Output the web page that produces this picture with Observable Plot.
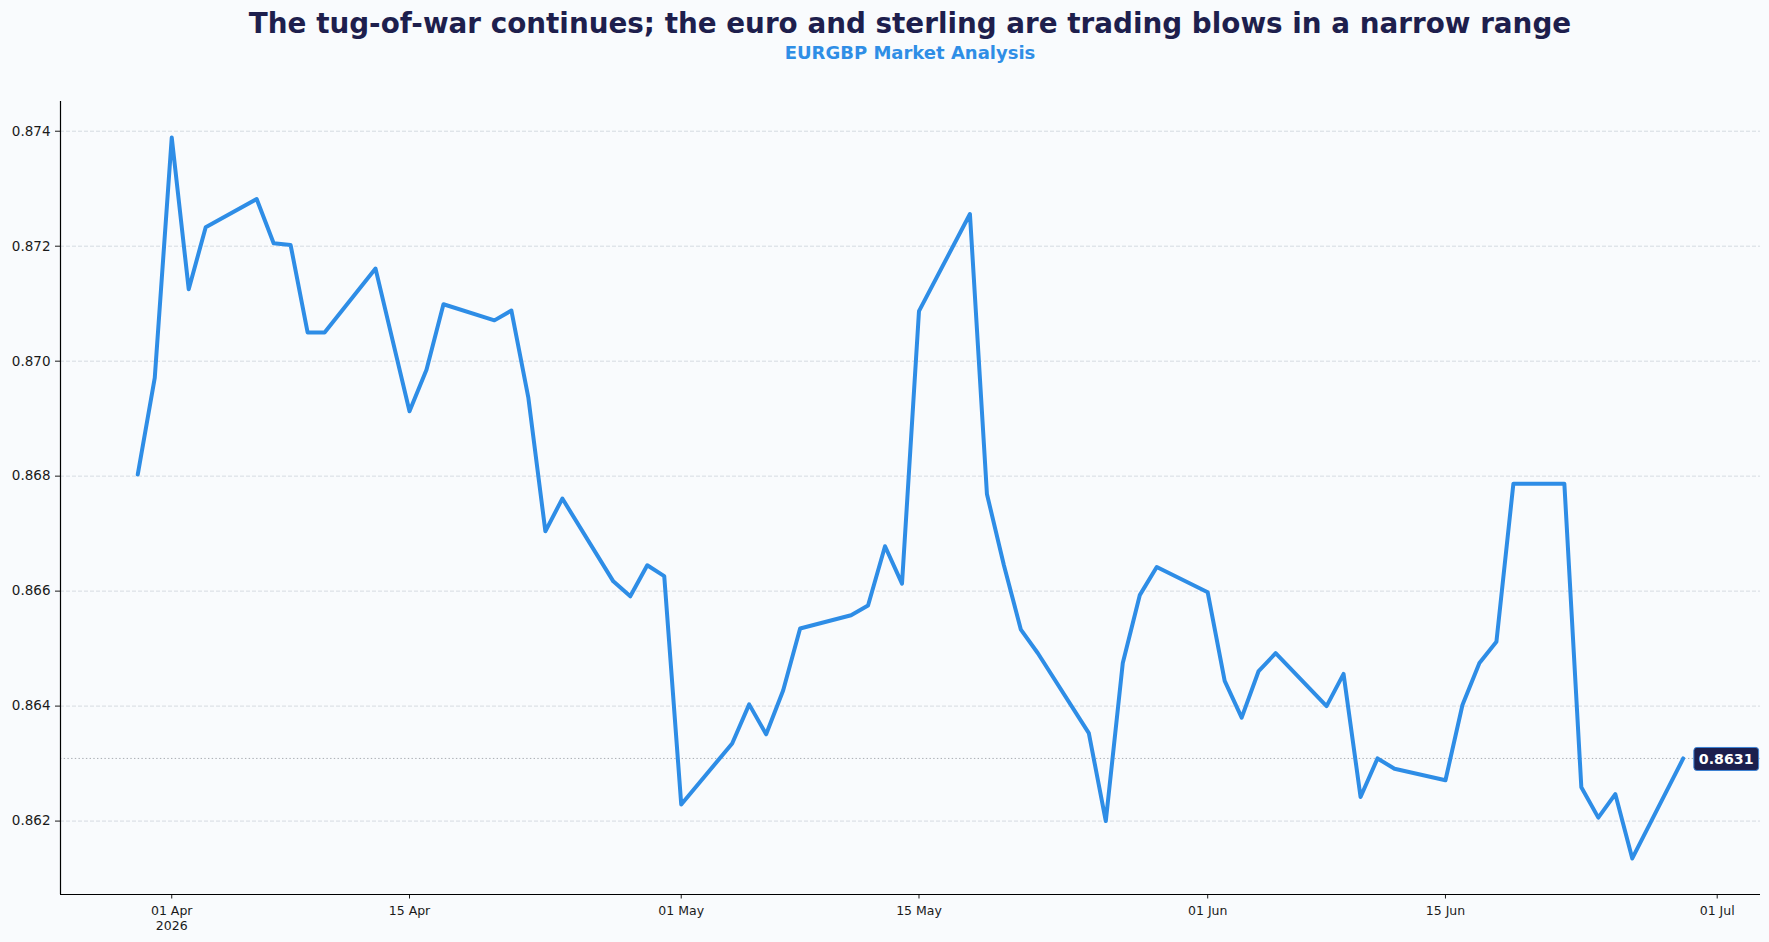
<!DOCTYPE html>
<html>
<head>
<meta charset="utf-8">
<script src="https://cdn.jsdelivr.net/npm/d3@7"></script>
<script src="https://cdn.jsdelivr.net/npm/@observablehq/plot@0.6"></script>
<style>
  html, body { margin: 0; padding: 0; background: #f9fbfd; }
  body { width: 1769px; height: 942px; overflow: hidden; font-family: "DejaVu Sans", sans-serif; }
  #header { position: relative; height: 70px; }
  #title { position: absolute; top: 7px; left: 60px; right: 9px; text-align: center;
           font-size: 27.8px; line-height: 34px; font-weight: bold; color: #1e1f4d; white-space: nowrap; }
  #subtitle { position: absolute; top: 41.5px; left: 60px; right: 9px; text-align: center;
              font-size: 18px; line-height: 22px; font-weight: bold; color: #2f8ee6; white-space: nowrap; }
  #chart svg { display: block; }
</style>
</head>
<body>
<div id="header"><div id="title"></div><div id="subtitle"></div></div>
<div id="chart"></div>
<script>
const titleText = "The tug-of-war continues; the euro and sterling are trading blows in a narrow range";
const subtitleText = "EURGBP Market Analysis";

const dates = [
  "2026-03-30","2026-03-31","2026-04-01","2026-04-02","2026-04-03",
  "2026-04-06","2026-04-07","2026-04-08","2026-04-09","2026-04-10",
  "2026-04-13","2026-04-15","2026-04-16","2026-04-17",
  "2026-04-20","2026-04-21","2026-04-22","2026-04-23","2026-04-24",
  "2026-04-27","2026-04-28","2026-04-29","2026-04-30","2026-05-01",
  "2026-05-04","2026-05-05","2026-05-06","2026-05-07","2026-05-08",
  "2026-05-11","2026-05-12","2026-05-13","2026-05-14","2026-05-15",
  "2026-05-18","2026-05-19","2026-05-20","2026-05-21","2026-05-22",
  "2026-05-25","2026-05-26","2026-05-27","2026-05-28","2026-05-29",
  "2026-06-01","2026-06-02","2026-06-03","2026-06-04","2026-06-05",
  "2026-06-08","2026-06-09","2026-06-10","2026-06-11","2026-06-12",
  "2026-06-15","2026-06-16","2026-06-17","2026-06-18","2026-06-19",
  "2026-06-22","2026-06-23","2026-06-24","2026-06-25","2026-06-26",
  "2026-06-29"
];
const values = [
  0.86803, 0.86971, 0.87389, 0.87125, 0.87233,
  0.87282, 0.87205, 0.87202, 0.87050, 0.87050,
  0.87161, 0.86913, 0.86985, 0.87099,
  0.87071, 0.87088, 0.86936, 0.86704, 0.86761,
  0.86617, 0.86591, 0.86645, 0.86626, 0.86229,
  0.86335, 0.86403, 0.86351, 0.86427, 0.86535,
  0.86558, 0.86575, 0.86678, 0.86613, 0.87087,
  0.87256, 0.86769, 0.86645, 0.86533, 0.86492,
  0.86353, 0.86200, 0.86475, 0.86593, 0.86642,
  0.86598, 0.86444, 0.86380, 0.86461, 0.86492,
  0.86400, 0.86456, 0.86242, 0.86309, 0.86291,
  0.86271, 0.86402, 0.86475, 0.86512, 0.86787,
  0.86787, 0.86259, 0.86206, 0.86247, 0.86135,
  0.86309
];
const yTicks = [0.862, 0.864, 0.866, 0.868, 0.870, 0.872, 0.874];
const xTicks = ["2026-04-01","2026-04-15","2026-05-01","2026-05-15","2026-06-01","2026-06-15","2026-07-01"];
const monthNames = ["Jan","Feb","Mar","Apr","May","Jun","Jul","Aug","Sep","Oct","Nov","Dec"];

document.getElementById("title").textContent = titleText;
document.getElementById("subtitle").textContent = subtitleText;

const data = dates.map((d, i) => ({date: new Date(d + "T00:00:00Z"), value: values[i]}));
const xTickDates = xTicks.map(d => new Date(d + "T00:00:00Z"));
const last = data[data.length - 1];
const lastLabel = last.value.toFixed(4);

// matplotlib-like 5% margins
const xExt = d3.extent(data, d => +d.date);
const xPad = (xExt[1] - xExt[0]) * 0.05;
const xDomain = [new Date(xExt[0] - xPad), new Date(xExt[1] + xPad)];
const yExt = d3.extent(data, d => d.value);
const yPad = (yExt[1] - yExt[0]) * 0.05;
const yDomain = [yExt[0] - yPad, yExt[1] + yPad];

const fmtX = (d, i) => {
  const s = String(d.getUTCDate()).padStart(2, "0") + " " + monthNames[d.getUTCMonth()];
  return i === 0 ? s + "\n" + d.getUTCFullYear() : s;
};

const chart = Plot.plot({
  width: 1769,
  height: 872,
  marginLeft: 60,
  marginRight: 9,
  marginTop: 31,
  marginBottom: 48,
  style: {background: "transparent", fontFamily: "DejaVu Sans, sans-serif", color: "#1a1a1a", overflow: "visible"},
  x: {type: "utc", domain: xDomain},
  y: {domain: yDomain},
  marks: [
    Plot.gridY(yTicks, {stroke: "#cdd3db", strokeOpacity: 1, strokeWidth: 0.8, strokeDasharray: "4,2"}),
    Plot.ruleY([last.value], {stroke: "#a9adb3", strokeWidth: 1, strokeDasharray: "1.4,2.3"}),
    Plot.lineY(data, {x: "date", y: "value", stroke: "#2e8de6", strokeWidth: 4}),
    Plot.axisY({ticks: yTicks, tickFormat: d3.format(".3f"), tickSize: 5, tickPadding: 5, fontSize: 13.5, label: null}),
    Plot.axisX({ticks: xTickDates, tickFormat: fmtX, tickSize: 4.5, tickPadding: 5.5, fontSize: 12.5, lineHeight: 1.2, label: null}),
    Plot.ruleX([xDomain[0]], {stroke: "#000", strokeWidth: 1.2}),
    Plot.ruleY([yDomain[0]], {stroke: "#000", strokeWidth: 1.2}),
    Plot.text([last], {x: "date", y: "value", text: () => lastLabel, dx: 43, dy: 1,
      fill: "#ffffff", fontWeight: "bold", fontSize: 14.2, textAnchor: "middle"})
  ]
});
document.getElementById("chart").appendChild(chart);

// background box behind last-value label
const labelTexts = Array.from(chart.querySelectorAll("text")).filter(t => t.textContent === lastLabel);
labelTexts.forEach(t => {
  const bb = t.getBBox();
  const padX = 5, padY = 3.5;
  const rect = document.createElementNS("http://www.w3.org/2000/svg", "rect");
  rect.setAttribute("x", bb.x - padX);
  rect.setAttribute("y", bb.y - padY);
  rect.setAttribute("width", bb.width + 2 * padX);
  rect.setAttribute("height", bb.height + 2 * padY);
  rect.setAttribute("rx", 3);
  rect.setAttribute("fill", "#1c1f4e");
  rect.setAttribute("stroke", "#3b82d6");
  rect.setAttribute("stroke-width", 1);
  const tr = t.getAttribute("transform");
  if (tr) rect.setAttribute("transform", tr);
  t.parentNode.insertBefore(rect, t);
});
</script>
</body>
</html>
